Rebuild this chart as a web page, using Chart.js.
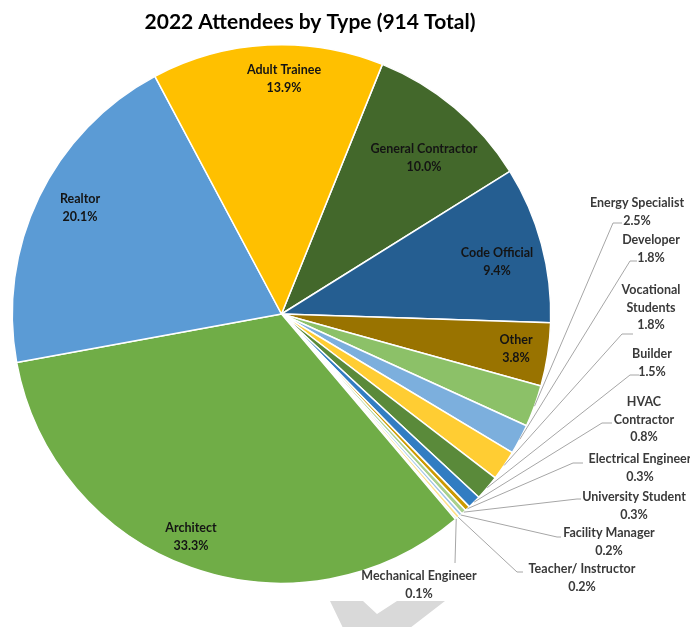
<!DOCTYPE html>
<html>
<head>
<meta charset="utf-8">
<title>2022 Attendees by Type</title>
<script src="https://cdn.jsdelivr.net/npm/chart.js@4.4.1/dist/chart.umd.min.js"></script>
<style>
  html, body { margin: 0; padding: 0; background: #ffffff; }
  #wrap { width: 690px; height: 627px; position: relative; overflow: hidden; }
</style>
</head>
<body>
<div id="wrap"><canvas id="attendeeChart" width="690" height="627"></canvas></div>
<script>
// ==========================================
// Data (slices clockwise, starting at the top right)
// ==========================================
const categories = [
    'General Contractor', 'Code Official', 'Other', 'Energy Specialist',
    'Developer', 'Vocational Students', 'Builder', 'HVAC Contractor',
    'Electrical Engineer', 'University Student', 'Facility Manager',
    'Teacher/ Instructor', 'Mechanical Engineer', 'Architect', 'Realtor',
    'Adult Trainee'
];
const shares = [10.0, 9.4, 3.8, 2.5, 1.8, 1.8, 1.5, 0.8, 0.3, 0.3, 0.2, 0.2, 0.1, 33.3, 20.1, 13.9];
const sliceColors = [
    '#43682b', '#255e91', '#997300', '#8cc168',
    '#7cafdd', '#ffcd33', '#5a8a3a', '#327dc2',
    '#cc9a00', '#a9d18e', '#9dc3e6', '#ffe08a',
    '#c5e0b4', '#70ad47', '#5b9bd5', '#ffc000'
];
// how each category name is broken over lines in the label
const labelLines = [
    ['General Contractor'], ['Code Official'], ['Other'], ['Energy Specialist'],
    ['Developer'], ['Vocational', 'Students'], ['Builder'], ['HVAC', 'Contractor'],
    ['Electrical Engineer'], ['University Student'], ['Facility Manager'],
    ['Teacher/ Instructor'], ['Mechanical Engineer'], ['Architect'], ['Realtor'],
    ['Adult Trainee']
];

// ==========================================
// Label layout (text centre of first line, leader line end + stub)
// ==========================================
const labelLayout = [
    { x: 424, y: 149 },
    { x: 497, y: 253 },
    { x: 516, y: 340 },
    { x: 637, y: 203, lead: [613, 223, 622] },
    { x: 651, y: 240, lead: [630, 261, 637] },
    { x: 651, y: 290, lead: [622, 334, 633] },
    { x: 652, y: 354, lead: [630, 375, 639] },
    { x: 644, y: 402, lead: [602, 423, 612] },
    { x: 640, y: 459, lead: [573, 463, 583] },
    { x: 634, y: 497, lead: [577, 499, 581] },
    { x: 609, y: 533, lead: [557, 537, 561] },
    { x: 582, y: 569, lead: [517, 572, 523] },
    { x: 419, y: 576, lead: [455, 563, 455] },
    { x: 191, y: 528 },
    { x: 80,  y: 199 },
    { x: 284, y: 70 }
];

const FONT = 'Lato, "Open Sans", sans-serif';

const decorPlugin = {
    id: 'decor',
    beforeDatasetsDraw(chart) {
        // faint grey chevron peeking in at the bottom
        const ctx = chart.ctx;
        ctx.save();
        ctx.fillStyle = '#d9d9d9';
        ctx.beginPath();
        ctx.moveTo(330, 601);
        ctx.lineTo(363, 601);
        ctx.lineTo(377, 614);
        ctx.lineTo(397, 601);
        ctx.lineTo(445, 601);
        ctx.lineTo(410, 628);
        ctx.lineTo(343, 628);
        ctx.closePath();
        ctx.fill();
        ctx.restore();
    },
    afterDatasetsDraw(chart) {
        const ctx = chart.ctx;
        const arcs = chart.getDatasetMeta(0).data;
        ctx.save();

        // leader lines from slice edge
        ctx.strokeStyle = '#a6a6a6';
        ctx.lineWidth = 1;
        arcs.forEach((arc, i) => {
            const lay = labelLayout[i];
            if (!lay.lead) return;
            const p = arc.getProps(['x', 'y', 'startAngle', 'endAngle', 'outerRadius'], true);
            const mid = (p.startAngle + p.endAngle) / 2;
            const sx = p.x + Math.cos(mid) * p.outerRadius;
            const sy = p.y + Math.sin(mid) * p.outerRadius;
            ctx.beginPath();
            ctx.moveTo(sx, sy);
            ctx.lineTo(lay.lead[0], lay.lead[1]);
            ctx.lineTo(lay.lead[2], lay.lead[1]);
            ctx.stroke();
        });

        // labels
        ctx.font = 'bold 12.5px ' + FONT;
        ctx.textAlign = 'center';
        ctx.textBaseline = 'middle';
        labelLayout.forEach((lay, i) => {
            ctx.fillStyle = lay.lead ? '#3a3a3a' : '#141414';
            const lines = labelLines[i].concat([shares[i].toFixed(1) + '%']);
            lines.forEach((t, k) => ctx.fillText(t, lay.x, lay.y + k * 17.5));
        });

        // title
        ctx.fillStyle = '#000000';
        ctx.font = 'bold 21px ' + FONT;
        ctx.fillText('2022 Attendees by Type (914 Total)', 310, 22);
        ctx.restore();
    }
};

new Chart(document.getElementById('attendeeChart'), {
    type: 'pie',
    data: {
        labels: categories,
        datasets: [{
            data: shares,
            backgroundColor: sliceColors,
            borderColor: '#ffffff',
            borderWidth: 1.5
        }]
    },
    options: {
        responsive: false,
        animation: false,
        rotation: 22,
        layout: { padding: { top: 44, bottom: 43, left: 11, right: 138 } },
        plugins: {
            legend: { display: false },
            tooltip: { enabled: false },
            title: { display: false }
        }
    },
    plugins: [decorPlugin]
});
</script>
</body>
</html>
